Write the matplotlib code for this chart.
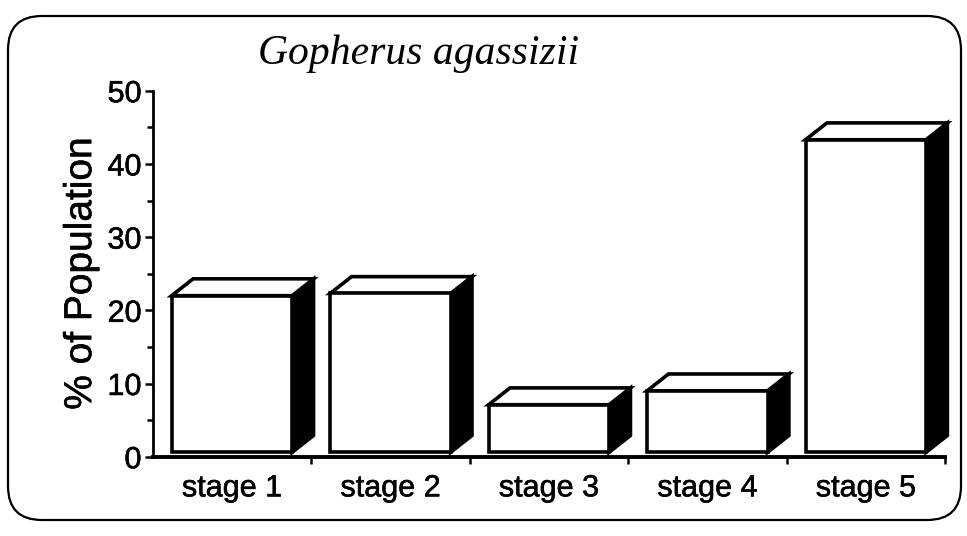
import matplotlib
matplotlib.use("Agg")
import matplotlib.pyplot as plt
import matplotlib.patheffects as pe
from matplotlib.patches import Polygon, FancyBboxPatch

categories = ["stage 1", "stage 2", "stage 3", "stage 4", "stage 5"]
values = [22.0, 22.3, 7.1, 9.0, 43.3]
y_ticks = [0, 10, 20, 30, 40, 50]
title = "Gopherus agassizii"
ylabel = "% of Population"

W, H = 967, 536
fig = plt.figure(figsize=(W / 100, H / 100), dpi=100)

# rounded frame
frame = FancyBboxPatch((8 / W, 16 / H), (961 - 8) / W, (520 - 16) / H,
                       boxstyle="round,pad=0,rounding_size=0.035",
                       transform=fig.transFigure, fill=False,
                       edgecolor="black", linewidth=1.6, mutation_aspect=W / H)
fig.patches.append(frame)

left, bottom = 152.7 / W, (H - 456.7) / H
width, height = (945 - 152.7) / W, (456.7 - 90.7) / H
ax = fig.add_axes([left, bottom, width, height])
ax.set_xlim(0, len(categories))
ax.set_ylim(0, 50)

bar_w = 0.76
dx, dy = 0.135, 2.3
base = 0.6
lw = 2.6
for i, v in enumerate(values):
    x0 = i + 0.5 - bar_w / 2
    x1 = i + 0.5 + bar_w / 2
    side = Polygon([(x1, base), (x1 + dx, base + dy), (x1 + dx, v + dy), (x1, v)],
                   closed=True, facecolor="black", edgecolor="black", linewidth=lw,
                   joinstyle="miter", clip_on=False, zorder=3)
    top = Polygon([(x0, v), (x0 + dx, v + dy), (x1 + dx, v + dy), (x1, v)],
                  closed=True, facecolor="white", edgecolor="black", linewidth=lw,
                  joinstyle="miter", clip_on=False, zorder=3)
    front = Polygon([(x0, base), (x1, base), (x1, v), (x0, v)],
                    closed=True, facecolor="white", edgecolor="black", linewidth=lw,
                    joinstyle="miter", clip_on=False, zorder=4)
    ax.add_patch(side)
    ax.add_patch(top)
    ax.add_patch(front)

for s in ["top", "right"]:
    ax.spines[s].set_visible(False)
ax.spines["left"].set_linewidth(2.0)
ax.spines["bottom"].set_linewidth(2.8)

font = "Liberation Sans"
thick = [pe.withStroke(linewidth=0.4, foreground="black")]

ax.set_yticks(y_ticks)
ax.set_yticklabels([str(t) for t in y_ticks], fontsize=22, family=font)
ax.set_yticks([t + 5 for t in y_ticks[:-1]], minor=True)
ax.tick_params(axis="y", which="major", direction="out", length=6, width=1.8, pad=2)
ax.tick_params(axis="y", which="minor", direction="out", length=4, width=1.8)

ax.set_xticks(range(1, len(categories) + 1))
ax.set_xticklabels([""] * len(categories))
ax.tick_params(axis="x", which="major", direction="out", length=5, width=1.8)
ax.set_xticks([i + 0.5 for i in range(len(categories))], minor=True)
ax.set_xticklabels(categories, minor=True, fontsize=22, family=font)
ax.tick_params(axis="x", which="minor", length=0, pad=12)

for t in ax.get_yticklabels() + ax.get_xticklabels(minor=True):
    t.set_path_effects(thick)

yl = ax.set_ylabel(ylabel, fontsize=28, family=font, labelpad=6)
yl.set_path_effects(thick)

fig.text(258 / W, (H - 64) / H, title, fontsize=30, family="Liberation Serif",
         style="italic", ha="left", va="baseline")

fig.savefig("out.png", dpi=100)
